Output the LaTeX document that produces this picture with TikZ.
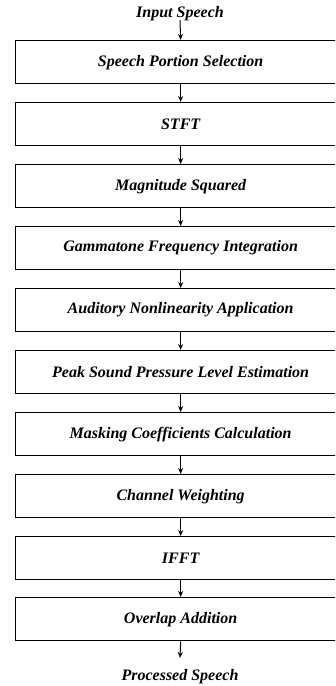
\documentclass[tikz,border=0pt]{standalone}
\usepackage{fontspec}
\setmainfont{Liberation Serif}
\usetikzlibrary{arrows.meta}
\begin{document}
\begin{tikzpicture}[x=1pt,y=-1pt,
  stage/.style={draw, line width=1.3pt, minimum width=330pt, minimum height=43pt, inner sep=0pt, anchor=north west, font=\fontsize{16}{18}\selectfont\bfseries\itshape},
  lbl/.style={inner sep=0pt, font=\fontsize{16}{18}\selectfont\bfseries\itshape},
  flow/.style={-{Stealth[length=6pt,width=5pt]}, line width=1pt}]
\useasboundingbox (0,0) rectangle (335,686);
\clip (0,0) rectangle (335,686);
\node[lbl] (in) at (180,14) {Input Speech};
\node[stage] (b1) at (15,40) {Speech Portion Selection};
\node[stage] (b2) at (15,102) {STFT};
\node[stage] (b3) at (15,164) {Magnitude Squared};
\node[stage] (b4) at (15,226) {Gammatone Frequency Integration};
\node[stage] (b5) at (15,288) {Auditory Nonlinearity Application};
\node[stage] (b6) at (15,350) {Peak Sound Pressure Level Estimation};
\node[stage] (b7) at (15,412) {Masking Coefficients Calculation};
\node[stage] (b8) at (15,474) {Channel Weighting};
\node[stage] (b9) at (15,536) {IFFT};
\node[stage] (b10) at (15,597) {Overlap Addition};
\node[lbl] (out) at (180,677) {Processed Speech};
\coordinate (e) at (180,658);
\draw[flow] (180,20) -- (b1.north);
\foreach \a/\b in {b1/b2,b2/b3,b3/b4,b4/b5,b5/b6,b6/b7,b7/b8,b8/b9,b9/b10}
  \draw[flow] (\a.south) -- (\b.north);
\draw[flow] (b10.south) -- (e);
\end{tikzpicture}
\end{document}
